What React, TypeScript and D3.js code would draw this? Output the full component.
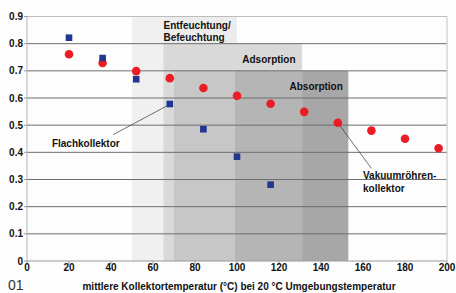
import React from "react";
import * as d3 from "d3";

const xTicks = [0, 20, 40, 60, 80, 100, 120, 140, 160, 180, 200];
const yTicks = [0, 0.1, 0.2, 0.3, 0.4, 0.5, 0.6, 0.7, 0.8, 0.9];

const flatTemps = [20, 36, 52, 68, 84, 100, 116];
const flatEff = [0.822, 0.747, 0.669, 0.578, 0.485, 0.384, 0.281];

const tubeTemps = [20, 36, 52, 68, 84, 100, 116, 132, 148, 164, 180, 196];
const tubeEff = [0.761, 0.729, 0.699, 0.673, 0.637, 0.608, 0.579, 0.549, 0.509, 0.48, 0.45, 0.415];

// zones: [from °C, to °C, top efficiency]
const zoneFrom = [50, 65, 65, 70, 99, 131];
const zoneTo = [65, 100, 131, 99, 131, 153];
const zoneTop = [0.9, 0.9, 0.8, 0.7, 0.7, 0.7];
const zoneColors = ["#f0f0f0", "#ececec", "#d9d9d9", "#c7c7c7", "#b5b5b5", "#a7a7a7"];

const W = 456;
const H = 293;

export default function App() {
  const x = d3.scaleLinear().domain([0, 200]).range([27, 447]);
  const y = d3.scaleLinear().domain([0, 0.9]).range([261, 16.5]);
  const font = "'Liberation Sans', Arial, sans-serif";

  return (
    <svg
      width={W}
      height={H}
      style={{ position: "absolute", left: 0, top: 0, background: "#fdfdfd" }}
      fontFamily={font}
    >
      <rect x={0} y={0} width={W} height={H} fill="#fdfdfd" />
      {zoneFrom.map((f, i) => (
        <rect
          key={"z" + i}
          x={x(f)}
          y={y(zoneTop[i])}
          width={x(zoneTo[i]) - x(f)}
          height={y(0) - y(zoneTop[i])}
          fill={zoneColors[i]}
        />
      ))}
      {/* gridlines */}
      {yTicks.map((t) => (
        <line
          key={"g" + t}
          x1={x(0)}
          x2={x(200)}
          y1={y(t)}
          y2={y(t)}
          stroke={t === 0.9 ? "#bdbdbd" : t === 0 ? "#9a9a9a" : "#6e6e6e"}
          strokeWidth={1}
        />
      ))}
      <line x1={x(0)} x2={x(0)} y1={y(0.9)} y2={y(0)} stroke="#b5b5b5" />
      <line x1={x(200)} x2={x(200)} y1={y(0.9)} y2={y(0)} stroke="#c4c4c4" />
      {yTicks.map((t) => (
        <g key={"yt" + t}>
          <line x1={x(0) - 3} x2={x(0)} y1={y(t)} y2={y(t)} stroke="#9a9a9a" />
          <text
            x={23}
            y={y(t)}
            dy="0.35em"
            textAnchor="end"
            fontSize={10}
            fontWeight="bold"
            fill="#111"
          >
            {t === 0 ? "0" : d3.format(".1f")(t)}
          </text>
        </g>
      ))}
      {xTicks.map((t) => (
        <g key={"xt" + t}>
          <line x1={x(t)} x2={x(t)} y1={y(0)} y2={y(0) + 3} stroke="#9a9a9a" />
          <text
            x={x(t)}
            y={271}
            textAnchor="middle"
            fontSize={10}
            fontWeight="bold"
            fill="#111"
          >
            {t}
          </text>
        </g>
      ))}
      {/* zone labels */}
      <g fontSize={10} fontWeight="bold" fill="#111">
        <text x={x(65)} y={29}>Entfeuchtung/</text>
        <text x={x(65)} y={41}>Befeuchtung</text>
        <text x={x(102.5)} y={63}>Adsorption</text>
        <text x={x(125)} y={90}>Absorption</text>
      </g>
      {/* leader lines */}
      <line
        x1={x(41)}
        y1={y(0.465)}
        x2={x(flatTemps[3]) - 3}
        y2={y(flatEff[3]) + 2}
        stroke="#333"
        strokeWidth={0.7}
      />
      <line
        x1={x(tubeTemps[8])}
        y1={y(tubeEff[8])}
        x2={x(164)}
        y2={y(0.341)}
        stroke="#333"
        strokeWidth={0.7}
      />
      <g fontSize={10} fontWeight="bold" fill="#111">
        <text x={x(28)} y={146.5} textAnchor="middle">Flachkollektor</text>
        <text x={x(160)} y={179}>Vakuumröhren-</text>
        <text x={x(160)} y={192}>kollektor</text>
      </g>
      {/* markers */}
      {tubeTemps.map((t, i) => (
        <circle key={"r" + i} cx={x(t)} cy={y(tubeEff[i])} r={4.3} fill="#ec1c24" />
      ))}
      {flatTemps.map((t, i) => (
        <rect
          key={"b" + i}
          x={x(t) - 3.3}
          y={y(flatEff[i]) - 3.3}
          width={6.6}
          height={6.6}
          fill="#22358f"
        />
      ))}
      <text x={239} y={290} textAnchor="middle" fontSize={10} fontWeight="bold" fill="#111">
        mittlere Kollektortemperatur (°C) bei 20 °C Umgebungstemperatur
      </text>
      <text x={8} y={289.5} fontSize={14} fill="#333">01</text>
    </svg>
  );
}
